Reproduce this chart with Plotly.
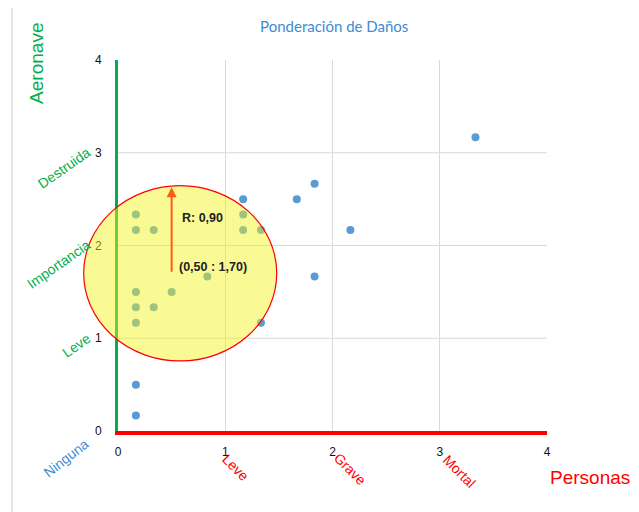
import plotly.graph_objects as go

# ---- data ----
personas = [0.167, 0.167, 0.167, 0.167, 0.167, 0.167, 0.167,
            0.333, 0.333, 0.5, 0.833,
            1.167, 1.167, 1.167, 1.333, 1.333,
            1.667, 1.833, 1.833, 2.167, 3.333]
aeronave = [0.167, 0.5, 1.167, 1.333, 1.5, 2.167, 2.333,
            2.167, 1.333, 1.5, 1.667,
            2.5, 2.333, 2.167, 2.167, 1.167,
            2.5, 2.667, 1.667, 2.167, 3.167]
tick_vals = [0, 1, 2, 3, 4]
x_categories = ["Leve", "Grave", "Mortal"]
y_categories = ["Leve", "Importancia", "Destruida"]
center = (0.5, 1.7)
radius = 0.9

GREEN = "#00b050"
RED = "#ff0000"
BLUE = "#3d8bd6"
DOT = "#5b9bd5"
XMAX = 4.0
YMAX = 4.0

fig = go.Figure()
fig.add_trace(go.Scatter(x=personas, y=aeronave, mode="markers",
                         marker=dict(color=DOT, size=8), showlegend=False,
                         cliponaxis=False))

shapes = []
# horizontal gridlines (not at top edge)
for v in tick_vals[1:-1]:
    shapes.append(dict(type="line", xref="paper", yref="y", x0=0, x1=1, y0=v, y1=v,
                       line=dict(color="#d9d9d9", width=1), layer="below"))
# circle (paper coords so it is not clipped by the plot area)
cx, cy = center
shapes.append(dict(type="circle", xref="paper", yref="paper",
                   x0=(cx + 0.08 - radius) / XMAX, x1=(cx + 0.08 + radius) / XMAX,
                   y0=(cy - radius * 1.05) / YMAX, y1=(cy + radius * 1.05) / YMAX,
                   fillcolor="rgba(245,245,20,0.45)",
                   line=dict(color=RED, width=1.2), layer="above"))
# left frame edge
shapes.append(dict(type="line", xref="paper", yref="paper", x0=-0.247, x1=-0.247,
                   y0=-0.22, y1=1.14, line=dict(color="#e6e6e6", width=2)))

C = dict(xanchor="center", yanchor="middle", showarrow=False)

annotations = []
# arrow for radius
annotations.append(dict(x=cx, y=cy + radius * 1.03, ax=cx, ay=cy, xref="x", yref="y",
                        axref="x", ayref="y", showarrow=True, arrowhead=2,
                        arrowsize=1, arrowwidth=2, arrowcolor="#ff5a1a", text=""))
annotations.append(dict(x=0.58, y=2.30, xref="x", yref="y", xanchor="left", yanchor="middle",
                        text=f"<b>R: {radius:.2f}</b>".replace(".", ","), showarrow=False,
                        font=dict(size=12.5, color="#222", family="Liberation Sans")))
annotations.append(dict(x=0.55, y=1.77, xref="x", yref="y", xanchor="left", yanchor="middle",
                        text=f"<b>({cx:.2f} : {cy:.2f})</b>".replace(".", ","), showarrow=False,
                        font=dict(size=12.5, color="#222", family="Liberation Sans")))
# y category labels
ypos = [(-0.096, 0.232), (-0.138, 0.450), (-0.126, 0.709)]
for lab, (xx, yy) in zip(y_categories, ypos):
    annotations.append(dict(x=xx, y=yy, xref="paper", yref="paper", text=lab,
                            textangle=-35, font=dict(size=14, color=GREEN, family="Liberation Sans"), **C))
annotations.append(dict(x=-0.121, y=-0.073, xref="paper", yref="paper", text="Ninguna",
                        textangle=-38,
                        font=dict(size=14, color=BLUE, family="Liberation Sans"), **C))
# x category labels
xpos = [(0.275, -0.100), (0.541, -0.102), (0.795, -0.108)]
for lab, (xx, yy) in zip(x_categories, xpos):
    annotations.append(dict(x=xx, y=yy, xref="paper", yref="paper", text=lab,
                            textangle=45, font=dict(size=14, color=RED, family="Liberation Sans"), **C))
# axis titles
annotations.append(dict(x=1.100, y=-0.124, xref="paper", yref="paper", text="Personas",
                        font=dict(size=19, color=RED, family="Liberation Sans"), **C))
annotations.append(dict(x=-0.189, y=0.992, xref="paper", yref="paper", text="Aeronave",
                        textangle=-90,
                        font=dict(size=19, color=GREEN, family="Liberation Sans"), **C))

fig.update_layout(
    width=631, height=504,
    margin=dict(l=110, r=92, t=52, b=81),
    paper_bgcolor="white", plot_bgcolor="white",
    title=dict(text="Ponderación de Daños", x=0.517, xanchor="center", y=0.962, yanchor="middle",
               font=dict(size=15, color=BLUE, family="Lato")),
    shapes=shapes, annotations=annotations,
    xaxis=dict(range=[0, XMAX], tickvals=tick_vals, showgrid=True, gridcolor="#d9d9d9",
               zeroline=False, showline=True, linecolor=RED, linewidth=4,
               ticks="outside", ticklen=7, tickcolor="rgba(0,0,0,0)",
               tickfont=dict(size=12, color="#111", family="Liberation Sans")),
    yaxis=dict(range=[0, YMAX], tickvals=tick_vals, showgrid=False,
               zeroline=False, showline=True, linecolor=GREEN, linewidth=3,
               ticks="outside", ticklen=11, tickcolor="rgba(0,0,0,0)",
               tickfont=dict(size=12, color="#111", family="Liberation Sans")),
)

fig.write_html("out.html")
